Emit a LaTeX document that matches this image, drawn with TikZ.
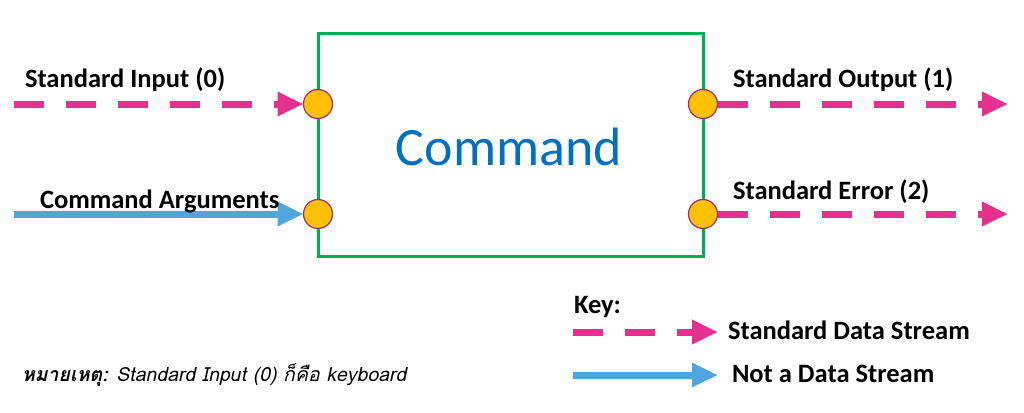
\documentclass[tikz,border=0pt]{standalone}
\usepackage{fontspec}
\setmainfont{Carlito}
\newfontfamily\thaifont[Script=Thai]{Loma}
\usetikzlibrary{positioning, arrows.meta}
\definecolor{streampink}{HTML}{E6308F}
\definecolor{argblue}{HTML}{4FA6DC}
\definecolor{boxgreen}{HTML}{00B050}
\definecolor{portfill}{HTML}{FFC000}
\definecolor{portedge}{HTML}{9C2C7C}
\definecolor{cmdblue}{HTML}{0070C0}

\begin{document}
\begin{tikzpicture}[x=1pt,y=-1pt,
    every node/.style={inner sep=0pt,outer sep=0pt},
    label/.style={font=\fontsize{26.5}{28}\selectfont\bfseries,anchor=base west},
    port/.style={circle,draw=portedge,line width=1.2pt,fill=portfill,minimum size=29pt},
    stream/.style={draw=streampink,line width=7pt,dash pattern=on 30pt off 22pt,-{Triangle[length=26pt,width=23pt]}},
    argument/.style={draw=argblue,line width=7pt,-{Triangle[length=26pt,width=23pt]}}]
    \useasboundingbox (0,0) rectangle (1024,412);

    \node [draw=boxgreen,line width=3pt,minimum width=385pt,minimum height=222pt] (cmd) at (510.5,145) {};
    \node [font=\fontsize{54}{56}\selectfont,text=cmdblue] (cmdtext) at (509,147) {Command};

    \node [port] (stdin) at (318,104) {};
    \node [port] (args) at (318,214) {};
    \node [port] (stdout) at (703,104) {};
    \node [port] (stderr) at (703,214) {};

    \coordinate (stdinsrc) at (14,104);
    \coordinate (argssrc) at (14,214);
    \coordinate (stdoutdst) at (1008,104);
    \coordinate (stderrdst) at (1008,214);
    \draw [stream] (stdinsrc) -- (stdin);
    \draw [argument] (argssrc) -- (args);
    \draw [stream] (stdout) -- (stdoutdst);
    \draw [stream] (stderr) -- (stderrdst);

    \node [label] (stdinlabel) at (25,87) {Standard Input (0)};
    \node [label] (argslabel) at (40,208) {Command Arguments};
    \node [label] (stdoutlabel) at (733,87) {Standard Output (1)};
    \node [label] (stderrlabel) at (733,199) {Standard Error (2)};

    % key
    \node [label] (keytitle) at (574,313) {Key:};
    \coordinate (keystreamsrc) at (573,332);
    \coordinate (keystreamdst) at (718,332);
    \coordinate (keyargsrc) at (573,375);
    \coordinate (keyargdst) at (718,375);
    \draw [stream] (keystreamsrc) -- (keystreamdst);
    \draw [argument] (keyargsrc) -- (keyargdst);
    \node [label] (keystream) at (728,339) {Standard Data Stream};
    \node [label] (keyarg) at (732,382) {Not a Data Stream};

    \node [anchor=base west,font=\thaifont\fontsize{19.5}{21}\selectfont\itshape] (note) at (22,381) {\textbf{หมายเหตุ:} Standard Input (0) ก็คือ keyboard};
\end{tikzpicture}
\end{document}
